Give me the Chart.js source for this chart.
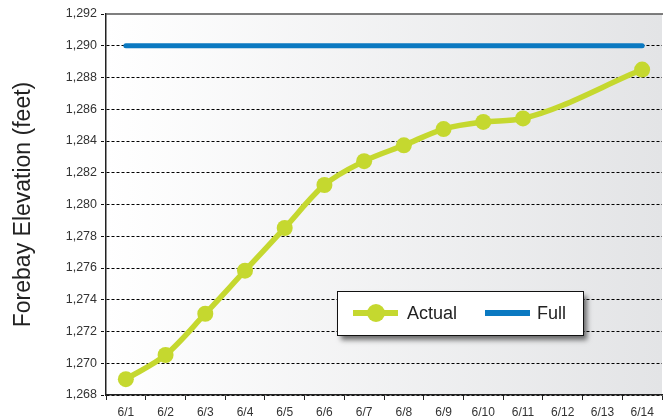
<!DOCTYPE html>
<html>
<head>
<meta charset="utf-8">
<script src="https://cdn.jsdelivr.net/npm/chart.js@4"></script>
<style>
  html, body { margin: 0; padding: 0; background: #fff; }
  #wrap { width: 663px; height: 418px; }
</style>
</head>
<body>
<div id="wrap"><canvas id="chart" width="663" height="418"></canvas></div>
<script>
// forebay elevation, June 1-14
const days = ['6/1', '6/2', '6/3', '6/4', '6/5', '6/6', '6/7', '6/8', '6/9', '6/10', '6/11', '6/12', '6/13', '6/14'];
const actual = [1269.0, 1270.52, 1273.12, 1275.83, 1278.52, 1281.23, 1282.73, 1283.73, 1284.75, 1285.2, 1285.42, null, null, 1288.5];
const full = [1290, 1290, 1290, 1290, 1290, 1290, 1290, 1290, 1290, 1290, 1290, 1290, 1290, 1290];
const yMin = 1268, yMax = 1292, yStep = 2;

const GREEN = '#c5d82f';
const BLUE = '#0b79c1';
const FONT = '"Liberation Sans", Arial, sans-serif';

// grey fade behind the plot + solid top edge
const plotBg = {
  id: 'plotBg',
  beforeDraw(chart) {
    const { ctx, chartArea: a } = chart;
    const g = ctx.createLinearGradient(a.left, 0, a.right, 0);
    g.addColorStop(0, '#ffffff');
    g.addColorStop(1, '#e3e4e6');
    ctx.save();
    ctx.fillStyle = g;
    ctx.fillRect(a.left, a.top, a.right - a.left, a.bottom - a.top);
    ctx.restore();
  },
  afterDraw(chart) {
    const { ctx, chartArea: a } = chart;
    ctx.save();
    ctx.strokeStyle = '#555';
    ctx.lineWidth = 1.5;
    ctx.beginPath();
    ctx.moveTo(a.left, a.top);
    ctx.lineTo(a.right + 1, a.top);
    ctx.stroke();
    ctx.restore();
  }
};

// boxed legend with drop shadow inside the plot
const boxLegend = {
  id: 'boxLegend',
  afterDraw(chart) {
    const { ctx } = chart;
    const x = 337, y = 291, w = 246, h = 44;
    const cy = y + h / 2;
    ctx.save();
    ctx.shadowColor = 'rgba(0,0,0,0.55)';
    ctx.shadowBlur = 5;
    ctx.shadowOffsetX = 4;
    ctx.shadowOffsetY = 5;
    ctx.fillStyle = '#fff';
    ctx.fillRect(x, y, w, h);
    ctx.shadowColor = 'transparent';
    ctx.strokeStyle = '#111';
    ctx.lineWidth = 1;
    ctx.strokeRect(x + 0.5, y + 0.5, w, h);

    ctx.lineWidth = 6;
    ctx.strokeStyle = GREEN;
    ctx.beginPath();
    ctx.moveTo(353, cy);
    ctx.lineTo(398, cy);
    ctx.stroke();
    ctx.fillStyle = GREEN;
    ctx.beginPath();
    ctx.arc(376, cy, 9, 0, Math.PI * 2);
    ctx.fill();

    ctx.strokeStyle = BLUE;
    ctx.beginPath();
    ctx.moveTo(485, cy);
    ctx.lineTo(530, cy);
    ctx.stroke();

    ctx.fillStyle = '#222';
    ctx.font = '18px ' + FONT;
    ctx.textBaseline = 'middle';
    ctx.fillText('Actual', 407, cy + 1);
    ctx.fillText('Full', 537, cy + 1);
    ctx.restore();
  }
};

new Chart(document.getElementById('chart'), {
  type: 'line',
  data: {
    labels: days,
    datasets: [
      {
        label: 'Full',
        data: full,
        borderColor: BLUE,
        borderWidth: 5,
        pointRadius: 0,
        borderCapStyle: 'round',
        order: 2
      },
      {
        label: 'Actual',
        data: actual,
        borderColor: GREEN,
        backgroundColor: GREEN,
        borderWidth: 5.5,
        pointRadius: 8,
        pointBorderWidth: 0,
        pointHoverRadius: 8,
        spanGaps: true,
        cubicInterpolationMode: 'monotone',
        order: 1
      }
    ]
  },
  options: {
    responsive: false,
    animation: false,
    events: [],
    layout: { autoPadding: false, padding: { top: 14, right: 1, left: 0, bottom: 0 } },
    plugins: {
      legend: { display: false },
      tooltip: { enabled: false }
    },
    scales: {
      x: {
        offset: true,
        afterFit(s) {
          s.height = 23;
          s.paddingLeft = 0;
          s.paddingRight = 0;
        },
        grid: {
          offset: true,
          drawOnChartArea: false,
          drawTicks: true,
          tickLength: 5,
          tickColor: '#222',
          tickWidth: 1
        },
        border: { display: true, color: '#222', width: 1.5 },
        ticks: {
          color: '#333',
          padding: 5,
          maxRotation: 0,
          autoSkip: false,
          font: { family: FONT, size: 12 }
        }
      },
      y: {
        min: yMin,
        max: yMax,
        afterFit(s) { s.width = 106; },
        grid: {
          color: ctx => (ctx.tick && ctx.tick.value === yMax) ? 'rgba(0,0,0,0)' : '#000',
          tickColor: '#111',
          lineWidth: 1,
          tickLength: 5,
          tickBorderDash: [3, 2]
        },
        border: { display: true, color: '#222', width: 1.5, dash: [3, 2] },
        ticks: {
          stepSize: yStep,
          color: '#333',
          padding: 4,
          font: { family: FONT, size: 12.5 },
          callback: v => v.toLocaleString('en-US')
        },
        title: {
          display: true,
          text: 'Forebay Elevation (feet)',
          color: '#222',
          padding: { top: 10, bottom: 0 },
          font: { family: FONT, size: 23 }
        }
      }
    }
  },
  plugins: [plotBg, boxLegend]
});
</script>
</body>
</html>
